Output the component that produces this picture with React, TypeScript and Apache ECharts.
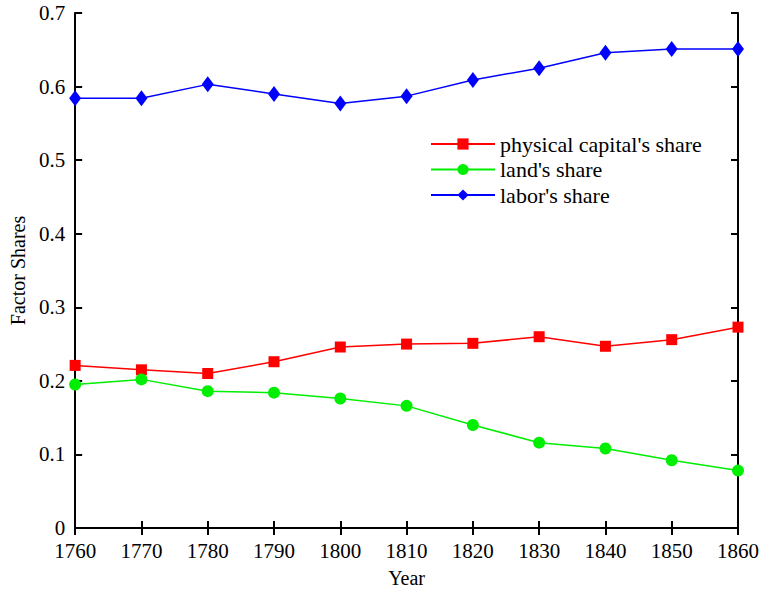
import React, { useEffect, useRef } from "react";
import * as echarts from "echarts";

const years = [1760, 1770, 1780, 1790, 1800, 1810, 1820, 1830, 1840, 1850, 1860];
const capitalShare = [0.221, 0.215, 0.210, 0.226, 0.246, 0.250, 0.251, 0.260, 0.247, 0.256, 0.273];
const landShare = [0.195, 0.202, 0.186, 0.184, 0.176, 0.166, 0.140, 0.116, 0.108, 0.092, 0.078];
const laborShare = [0.584, 0.584, 0.603, 0.590, 0.577, 0.587, 0.609, 0.625, 0.646, 0.651, 0.651];
const seriesNames = ["physical capital's share", "land's share", "labor's share"];

const FONT = "'Liberation Serif', 'Times New Roman', serif";

export default function App() {
  const ref = useRef<HTMLDivElement>(null);
  useEffect(() => {
    if (!ref.current) return;
    const chart = echarts.init(ref.current, null, { renderer: "svg" });
    const toPairs = (arr: number[]) => years.map((y, i) => [y, arr[i]]);
    const axisLine = { show: true, lineStyle: { color: "#000", width: 2 } };
    const tick = { show: true, inside: true, length: 7, lineStyle: { color: "#000", width: 2 } };
    const labelStyle = { fontFamily: FONT, fontSize: 21, color: "#000" };
    const nameStyle = { fontFamily: FONT, fontSize: 20, color: "#000" };
    chart.setOption({
      animation: false,
      textStyle: { fontFamily: FONT },
      grid: { left: 69, right: 23, top: 13, bottom: 58, containLabel: false },
      legend: {
        left: 425,
        top: 128,
        orient: "vertical",
        itemWidth: 64,
        itemHeight: 14,
        itemGap: 3.5,
        textStyle: { fontFamily: FONT, fontSize: 22, color: "#000" },
        data: seriesNames,
      },
      xAxis: [
        {
          type: "value",
          min: 1760,
          max: 1860,
          interval: 10,
          name: "Year",
          nameLocation: "middle",
          nameGap: 40,
          nameTextStyle: nameStyle,
          axisLine,
          axisTick: tick,
          splitLine: { show: false },
          axisLabel: { ...labelStyle, margin: 12, formatter: (v: number) => String(v) },
        },
        {
          type: "value",
          position: "top",
          min: 1760,
          max: 1860,
          interval: 10,
          axisLine,
          axisTick: tick,
          splitLine: { show: false },
          axisLabel: { show: false },
        },
      ],
      yAxis: [
        {
          type: "value",
          min: 0,
          max: 0.7,
          interval: 0.1,
          name: "Factor Shares",
          nameLocation: "middle",
          nameGap: 43,
          nameTextStyle: nameStyle,
          axisLine,
          axisTick: tick,
          splitLine: { show: false },
          axisLabel: { ...labelStyle, margin: 10 },
        },
        {
          type: "value",
          position: "right",
          min: 0,
          max: 0.7,
          interval: 0.1,
          axisLine,
          axisTick: tick,
          splitLine: { show: false },
          axisLabel: { show: false },
        },
      ],
      series: [
        {
          name: seriesNames[0],
          type: "line",
          data: toPairs(capitalShare),
          symbol: "rect",
          symbolSize: 11,
          lineStyle: { color: "#ff0000", width: 1.5 },
          itemStyle: { color: "#ff0000" },
        },
        {
          name: seriesNames[1],
          type: "line",
          data: toPairs(landShare),
          symbol: "circle",
          symbolSize: 12,
          lineStyle: { color: "#00ee00", width: 1.5 },
          itemStyle: { color: "#00ee00" },
        },
        {
          name: seriesNames[2],
          type: "line",
          data: toPairs(laborShare),
          symbol: "diamond",
          symbolSize: [12, 16],
          lineStyle: { color: "#0000ff", width: 1.5 },
          itemStyle: { color: "#0000ff" },
        },
      ],
    });
    return () => chart.dispose();
  }, []);
  return (
    <div
      ref={ref}
      style={{ position: "absolute", left: 0, top: 0, width: 762, height: 593 }}
    />
  );
}
